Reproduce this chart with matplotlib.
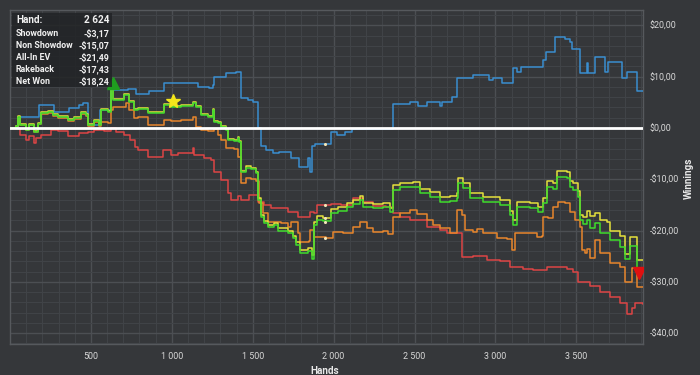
import matplotlib
matplotlib.use("Agg")
import matplotlib.pyplot as plt
from matplotlib.ticker import MultipleLocator, FuncFormatter
from matplotlib.patches import Rectangle

# ---------------- data ----------------
blue_hands = [0, 49, 179, 271, 364, 426, 450, 481, 555, 623, 728, 777, 858, 950, 1160,
              1228, 1253, 1259, 1333, 1394, 1425, 1468, 1499, 1530, 1549, 1580, 1623,
              1660, 1734, 1783, 1839, 1857, 1869, 1888, 1981, 2018, 2073, 2116, 2258,
              2369, 2474, 2524, 2579, 2659, 2672, 2733, 2764, 2863, 2962, 2986, 3042,
              3110, 3134, 3159, 3295, 3313, 3369, 3431, 3461, 3474, 3523, 3566, 3572,
              3616, 3677, 3696, 3782, 3813, 3875, 3912]
blue_vals = [0, 2.1, 4.5, 3.2, 3.9, 4.5, 4.9, 0.5, 3.5, 7.4, 7.6, 6.6, 7.3, 8.8, 8.0,
             7.8, 8.4, 9.9, 10.7, 10.9, 5.8, 5.5, 5.1, 0.0, -3.5, -4.3, -4.9,
             -4.6, -5.8, -7.6, -5.8, -8.6, -3.6, -3.1, -0.8, -1.4, -0.8, -0.2, -0.1,
             4.7, 5.0, 4.3, 5.1, 4.3, 5.1, 6.0, 9.7, 10.3, 9.3, 9.8, 8.8,
             11.7, 10.9, 11.9, 13.2, 14.8, 17.8, 17.4, 16.8, 15.4, 10.7, 12.7, 10.7,
             13.8, 10.9, 12.9, 9.7, 10.9, 7.2, 7.2]

red_hands = [0, 25, 60, 99, 117, 148, 160, 191, 253, 296, 358, 426, 481, 518, 580, 623,
             654, 703, 742, 771, 790, 851, 913, 944, 993, 1037, 1129, 1135, 1197, 1240,
             1259, 1302, 1345, 1364, 1407, 1425, 1475, 1530, 1567, 1610, 1654, 1715,
             1777, 1857, 1876, 1900, 1950, 1981, 2043, 2122, 2184, 2246, 2326, 2369,
             2412, 2474, 2579, 2659, 2702, 2795, 2863, 2949, 3029, 3091, 3171, 3233,
             3319, 3443, 3480, 3511, 3585, 3647, 3708, 3770, 3813, 3844, 3863, 3912]
red_vals = [0, 0, -1.4, -2.3, -1.5, -2.9, -2.0, -1.4, -0.4, -0.6, -1.6, -1.0, -0.8, -0.3, -0.6, 0.0,
            -0.8, -1.4, -2.3, -3.7, -4.3, -5.6, -5.7, -4.3, -5.3, -4.8, -3.9, -5.3, -5.8, -6.2,
            -8.5, -10.1, -12.7, -14.0, -13.2, -14.0, -13.1, -14.4, -15.0, -15.5, -15.6, -16.4,
            -17.3, -16.4, -16.6, -15.0, -15.0, -14.8, -15.0, -13.6, -14.5, -15.2, -15.4, -16.6,
            -17.3, -17.9, -19.3, -19.9, -20.5, -25.1, -25.0, -25.7, -25.9, -27.1, -27.4, -27.7,
            -27.1, -27.4, -28.0, -30.0, -30.8, -32.0, -32.9, -34.1, -36.3, -35.0, -34.1, -34.3]

green_hands = [0, 40, 49, 60, 99, 117, 148, 173, 191, 234, 265, 296, 358, 395, 438, 469,
               481, 518, 549, 561, 605, 623, 636, 666, 703, 734, 765, 790, 851, 932, 950,
               993, 1055, 1129, 1148, 1178, 1222, 1253, 1259, 1283, 1302, 1333, 1345, 1382,
               1407, 1413, 1425, 1456, 1487, 1518, 1530, 1549, 1567, 1592, 1629, 1654, 1715,
               1752, 1765, 1795, 1839, 1869, 1876, 1900, 1937, 1981, 2030, 2085, 2122, 2166,
               2184, 2246, 2308, 2351, 2369, 2412, 2493, 2536, 2598, 2659, 2721, 2764, 2770,
               2801, 2844, 2925, 3029, 3091, 3110, 3134, 3215, 3264, 3295, 3319, 3356, 3381,
               3443, 3461, 3480, 3511, 3523, 3542, 3566, 3585, 3616, 3647, 3690, 3708, 3770,
               3801, 3832, 3863, 3875, 3912]
green_vals = [0, 0.3, 2.1, 0.6, -0.4, 0.6, -0.8, 0.8, 2.9, 3.1, 2.6, 2.1, 1.6, 2.0, 2.9, 2.6,
              0.6, 1.4, 0.6, 3.5, 3.2, 8.0, 5.5, 5.5, 6.4, 5.1, 3.5, 3.7, 2.9, 2.9, 4.5,
              4.1, 4.3, 4.9, 4.1, 2.5, 2.1, 3.5, 1.2, 1.0, 0.2, -0.3, -2.3, -2.6,
              -2.0, -2.8, -8.6, -7.8, -8.0, -8.8, -14.0, -17.3, -18.5, -19.3, -18.9, -20.0, -20.5,
              -21.5, -22.8, -24.3, -24.0, -25.5, -19.0, -17.9, -18.1, -16.6, -16.2, -15.4, -14.8, -14.0,
              -15.4, -15.6, -15.4, -16.4, -12.1, -11.5, -11.5, -12.7, -13.4, -14.4, -14.2, -13.6, -10.7,
              -11.7, -13.6, -14.4, -15.0, -17.0, -18.9, -15.4, -15.6, -16.4, -14.6, -11.5, -11.9, -9.5,
              -9.7, -11.5, -12.0, -13.5, -17.9, -18.8, -17.9, -19.5, -18.5, -20.5, -20.5, -21.8, -23.2,
              -25.5, -23.0, -23.0, -27.2, -27.2]
yellow_vals = [0, 0.4, 2.3, 0.8, -0.2, 0.8, -0.6, 1.0, 3.1, 3.3, 2.8, 2.3, 1.8, 2.2, 3.1, 2.8,
               0.8, 1.6, 0.8, 3.7, 3.4, 8.2, 5.7, 5.7, 6.6, 5.3, 3.7, 3.9, 3.1, 3.1, 4.7,
               4.3, 4.5, 5.1, 4.3, 2.7, 2.3, 3.7, 1.4, 1.2, 0.4, -0.1, -2.1, -2.4,
               -1.8, -2.6, -8.3, -7.5, -7.7, -8.5, -13.7, -17.0, -18.1, -18.9, -18.5, -19.5, -20.0,
               -21.0, -22.3, -23.7, -23.4, -24.8, -18.3, -17.2, -17.5, -15.8, -15.4, -14.6, -14.0, -13.2,
               -14.6, -14.8, -14.6, -15.6, -11.1, -10.7, -10.6, -11.8, -12.5, -13.5, -13.3, -12.7, -9.7,
               -10.8, -12.7, -13.5, -14.1, -16.1, -18.0, -14.4, -14.6, -15.4, -13.6, -10.4, -10.8, -8.4,
               -8.6, -10.3, -10.8, -12.2, -17.0, -17.3, -16.2, -17.2, -16.5, -18.0, -18.3, -20.0, -21.0,
               -24.6, -21.3, -21.3, -25.7, -25.7]

orange_hands = [0, 40, 49, 60, 99, 117, 148, 173, 191, 234, 265, 296, 358, 395, 438, 469,
                481, 518, 549, 561, 605, 623, 636, 685, 716, 734, 765, 790, 851, 932, 950,
                993, 1055, 1129, 1148, 1178, 1222, 1259, 1283, 1302, 1333, 1382, 1407, 1425,
                1456, 1487, 1518, 1536, 1561, 1592, 1672, 1715, 1734, 1777, 1795, 1845, 1857,
                1876, 1950, 1999, 2061, 2122, 2166, 2209, 2246, 2308, 2338, 2369, 2412, 2474,
                2517, 2579, 2616, 2659, 2721, 2764, 2795, 2813, 2863, 2888, 2925, 3011, 3073,
                3104, 3122, 3171, 3258, 3289, 3295, 3326, 3356, 3387, 3431, 3461, 3492, 3523,
                3536, 3554, 3566, 3585, 3616, 3647, 3690, 3708, 3770, 3801, 3844, 3875, 3912]
orange_vals = [0, 0.3, 2.1, 0.6, -0.4, 0.6, -0.8, 0.8, 2.7, 2.9, 2.4, 1.9, 1.4, 1.8, 2.7, 2.4,
               0.4, 1.2, 0.4, 1.2, 1.0, 3.5, 4.0, 4.1, 4.9, 3.5, 1.9, 2.1, 0.6, 0.6, 1.6,
               1.3, 1.5, 2.1, 0.2, -0.4, -0.5, -0.2, -1.4, -2.3, -3.9, -4.1, -5.6, -10.7,
               -9.7, -9.9, -10.3, -14.6, -16.6, -18.3, -18.6, -19.3, -18.3, -20.5, -22.2, -22.0, -19.9,
               -21.2, -21.4, -20.3, -20.5, -19.3, -18.3, -19.5, -20.3, -20.0, -20.6, -17.3, -16.6, -16.0,
               -16.8, -17.9, -18.9, -19.5, -20.5, -16.0, -17.0, -19.9, -20.2, -19.6, -20.5, -21.4, -21.7,
               -23.8, -20.5, -20.4, -21.3, -21.0, -17.3, -17.5, -15.4, -14.4, -14.6, -16.4, -17.9, -19.3,
               -23.8, -24.4, -23.6, -25.3, -21.8, -24.4, -24.4, -26.3, -27.1, -30.0, -27.2, -31.0, -31.0]

dot_hand = 1944
dot_vals = [-3.1, -15.0, -17.5, -18.3, -21.4]
max_marker = (636, 8.7)
star_marker = (1006, 5.3)
min_marker = (3890, -28.3)

x_ticks = [500, 1000, 1500, 2000, 2500, 3000, 3500]
x_labels = ["500", "1 000", "1 500", "2 000", "2 500", "3 000", "3 500"]
y_ticks = [20, 10, 0, -10, -20, -30, -40]

tip_labels = ["Hand:", "Showdown", "Non Showdow", "All-In EV", "Rakeback", "Net Won"]
tip_values = ["2 624", "-$3,17", "-$15,07", "-$21,49", "-$17,43", "-$18,24"]

# ---------------- style ----------------
BG = "#35373a"
plt.rcParams['font.family'] = ['Roboto', 'DejaVu Sans']

fig = plt.figure(figsize=(7, 3.75), dpi=100, facecolor=BG)
ax = fig.add_axes([10/700, 1-344/375, 633/700, 334/375], facecolor=BG)

ax.set_xlim(0, 3912)
ax.set_ylim(-42.1, 23.0)

ax.xaxis.set_major_locator(MultipleLocator(500))
ax.xaxis.set_minor_locator(MultipleLocator(100))
ax.yaxis.set_major_locator(MultipleLocator(10))
ax.yaxis.set_minor_locator(MultipleLocator(2))
ax.grid(which='major', color='#4c4f53', linewidth=1.0)
ax.grid(which='minor', color='#404347', linewidth=0.8)
ax.set_axisbelow(True)

ax.set_xticks(x_ticks)
ax.set_xticklabels(x_labels)
ax.set_yticks(y_ticks)
ax.yaxis.set_major_formatter(FuncFormatter(
    lambda v, p: ("-$" if v < 0 else "$") + "%d,00" % abs(int(round(v)))))
ax.yaxis.tick_right()
ax.tick_params(axis='both', which='both', length=0, colors='#d8d8d8', labelsize=6.4)
ax.tick_params(axis='y', pad=5)
ax.tick_params(axis='x', pad=6)
for s in ax.spines.values():
    s.set_color('#56595d')
    s.set_linewidth(1.0)

lw = 1.1
ax.plot(red_hands, red_vals, drawstyle='steps-post', color='#dd4545', lw=lw, zorder=3)
ax.plot(blue_hands, blue_vals, drawstyle='steps-post', color='#3a8ed0', lw=lw, zorder=3)
ax.plot(orange_hands, orange_vals, drawstyle='steps-post', color='#e8862c', lw=lw, zorder=4)
ax.plot(green_hands, yellow_vals, drawstyle='steps-post', color='#e6e13c', lw=lw, zorder=5)
ax.plot(green_hands, green_vals, drawstyle='steps-post', color='#3fdc2c', lw=lw, zorder=6)

ax.axhline(0, color='white', lw=2.0, zorder=7)

ax.scatter([dot_hand]*len(dot_vals), dot_vals, s=5, color='#f3e6b8', zorder=8, linewidths=0)
ax.plot(*max_marker, marker='^', color='#1f9e1f', markersize=8, zorder=9)
ax.plot(*star_marker, marker='*', color='#f5e61a', markersize=10, zorder=9)
ax.plot(*min_marker, marker='v', color='#e01010', markersize=9, zorder=9)

fig.text(689/700, 1-178/375, "Winnings", rotation=90, color='#e8e8e8', fontsize=7.2,
         fontweight='bold', ha='center', va='center')
fig.text(325/700, 1-371/375, "Hands", color='#e8e8e8', fontsize=7.2,
         fontweight='bold', ha='center', va='center')

# tooltip box
box = Rectangle((12/700, 1-87/375), 100/700, 74/375, transform=fig.transFigure,
                facecolor='#222426', alpha=0.85, edgecolor='none', zorder=20)
fig.patches.append(box)
row_y = [20, 33, 45, 57, 69, 81]
for lab, val, yy in zip(tip_labels, tip_values, row_y):
    fs = 7.2 if lab == "Hand:" else 6.4
    fig.text(16/700, 1-yy/375, lab, color='#f0f0f0', fontsize=fs, fontweight='bold',
             ha='left', va='center', zorder=21)
    fig.text(109/700, 1-yy/375, val, color='#f0f0f0', fontsize=fs, fontweight='bold',
             ha='right', va='center', zorder=21)

fig.savefig("out.png", dpi=100, facecolor=BG)
